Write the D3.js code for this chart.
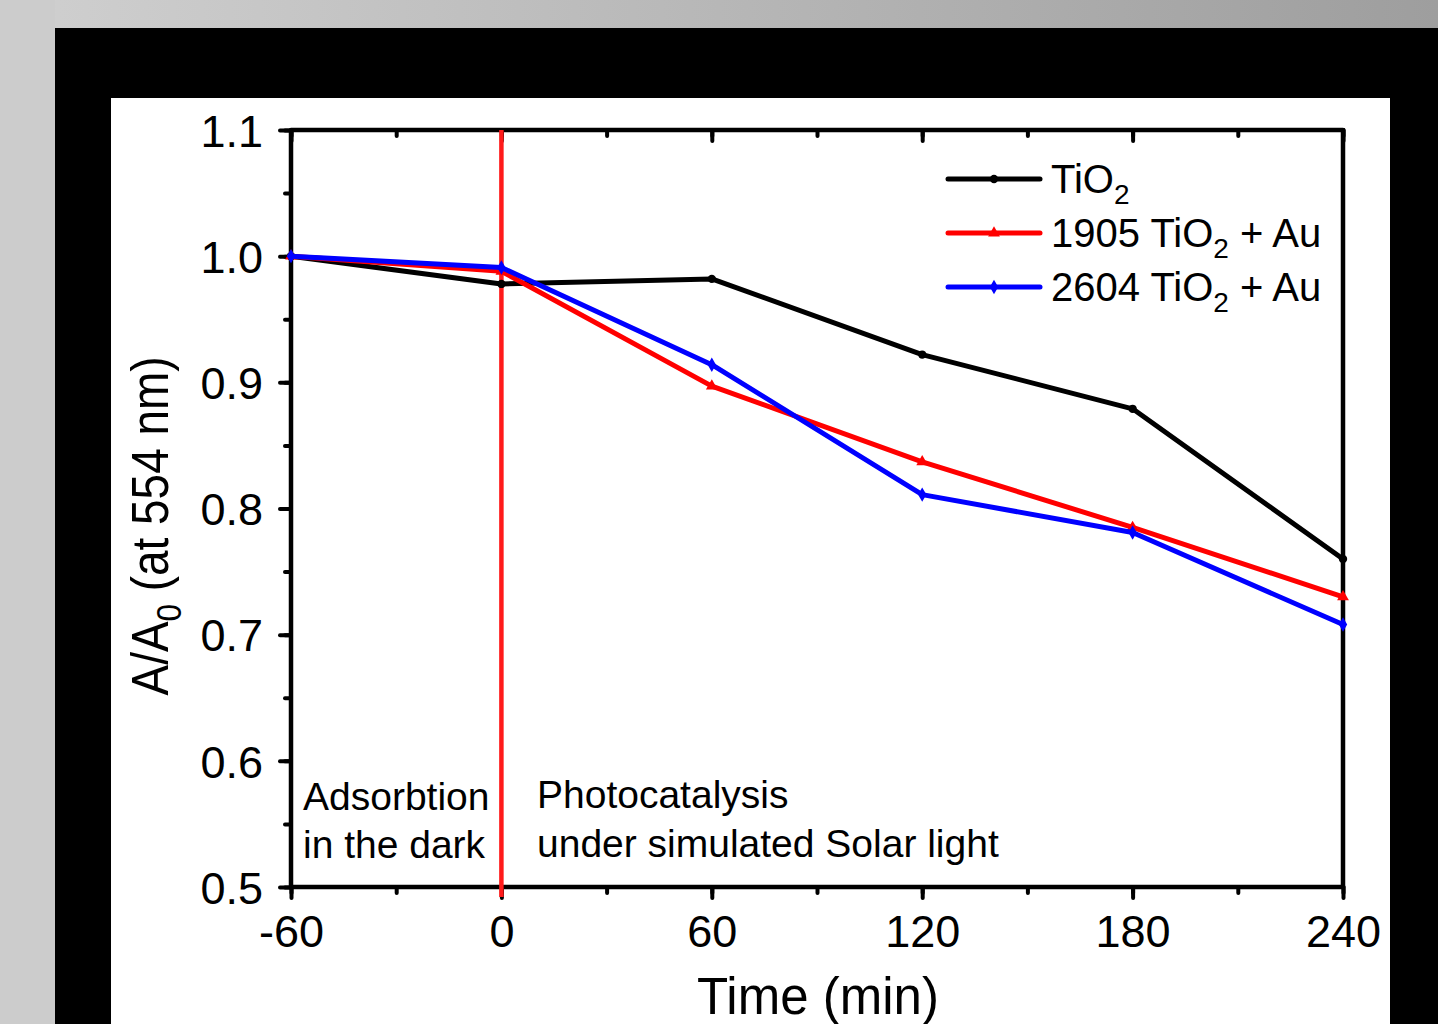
<!DOCTYPE html>
<html>
<head>
<meta charset="utf-8">
<script src="https://cdn.jsdelivr.net/npm/d3@7"></script>
<style>
  body { margin: 0; overflow: hidden; }
  svg { display: block; font-family: "Liberation Sans", Arial, sans-serif; }
</style>
</head>
<body>
<div id="root"></div>
<script>
const times = [-60, 0, 60, 120, 180, 240];
const tio2 = [1.0, 0.978, 0.982, 0.922, 0.879, 0.760];
const tio2Au1905 = [1.0, 0.988, 0.897, 0.837, 0.785, 0.730];
const tio2Au2604 = [1.0, 0.991, 0.914, 0.811, 0.781, 0.708];
const xTicks = [-60, 0, 60, 120, 180, 240];
const yTicks = [0.5, 0.6, 0.7, 0.8, 0.9, 1.0, 1.1];

const series = [
  { name: "TiO", sub: "2", rest: "", values: tio2, color: "#000000", marker: "circle" },
  { name: "1905 TiO", sub: "2", rest: " + Au", values: tio2Au1905, color: "#ff0000", marker: "triangle" },
  { name: "2604 TiO", sub: "2", rest: " + Au", values: tio2Au2604, color: "#0000ff", marker: "diamond" },
];

const width = 1438;
const height = 1024;
const plot = { left: 291, right: 1343, top: 130, bottom: 887 };

const svg = d3.select("#root").append("svg")
  .attr("width", width)
  .attr("height", height);

// background
const grad = svg.append("defs").append("linearGradient")
  .attr("id", "bg")
  .attr("x1", "0").attr("x2", "1").attr("y1", "0").attr("y2", "0");
grad.append("stop").attr("offset", "0").attr("stop-color", "#d0d0d0");
grad.append("stop").attr("offset", "1").attr("stop-color", "#9e9e9e");

svg.append("rect").attr("width", width).attr("height", height).attr("fill", "url(#bg)");
svg.append("rect").attr("width", 55).attr("height", height).attr("fill", "#cccccc");
svg.append("rect").attr("x", 55).attr("y", 28).attr("width", width - 55).attr("height", height - 28).attr("fill", "#000");
svg.append("rect").attr("x", 111).attr("y", 98).attr("width", 1279).attr("height", height - 98).attr("fill", "#fff");

const x = d3.scaleLinear().domain([-60, 240]).range([plot.left, plot.right]);
const y = d3.scaleLinear().domain([0.5, 1.1]).range([plot.bottom, plot.top]);

const minorX = d3.range(-60, 241, 30);
const minorY = d3.range(0.5, 1.1001, 0.05);

// bottom axis
const bottomAxis = svg.append("g")
  .attr("transform", `translate(0,${plot.bottom})`)
  .call(d3.axisBottom(x).tickValues(minorX).tickSize(6).tickFormat(""));
bottomAxis.append("g")
  .call(d3.axisBottom(x).tickValues(xTicks).tickSize(11).tickFormat(d => String(d)));

// left axis
const leftAxis = svg.append("g")
  .attr("transform", `translate(${plot.left},0)`)
  .call(d3.axisLeft(y).tickValues(minorY).tickSize(6).tickFormat(""));
leftAxis.append("g")
  .call(d3.axisLeft(y).tickValues(yTicks).tickSize(11).tickFormat(d => d.toFixed(1)));

// top axis (inward ticks)
const topAxis = svg.append("g")
  .attr("transform", `translate(0,${plot.top})`)
  .call(d3.axisBottom(x).tickValues(minorX).tickSize(6).tickFormat(""));
topAxis.append("g")
  .call(d3.axisBottom(x).tickValues(xTicks).tickSize(11).tickFormat(""));

svg.selectAll(".domain").attr("stroke", "none");
svg.selectAll(".tick line").attr("stroke", "#000").attr("stroke-width", 4).attr("stroke-linecap", "round");
svg.selectAll(".tick text")
  .attr("fill", "#000")
  .attr("font-size", 45)
  .attr("font-family", "Liberation Sans, Arial, sans-serif");
bottomAxis.selectAll(".tick text").attr("dy", null).attr("y", 60);
leftAxis.selectAll(".tick text").attr("x", -28).attr("dy", "0.36em");

// frame
svg.append("rect")
  .attr("x", plot.left).attr("y", plot.top)
  .attr("width", plot.right - plot.left).attr("height", plot.bottom - plot.top)
  .attr("fill", "none").attr("stroke", "#000").attr("stroke-width", 4.5)
  .attr("stroke-linejoin", "round");

// divider at t = 0
svg.append("line")
  .attr("x1", x(0)).attr("x2", x(0))
  .attr("y1", plot.top).attr("y2", plot.bottom + 10)
  .attr("stroke", "#ff1a1a").attr("stroke-width", 4.5);

const line = d3.line().x((d, i) => x(times[i])).y(d => y(d));

const markerPath = {
  circle: d3.symbol(d3.symbolCircle, 55)(),
  triangle: d3.symbol(d3.symbolTriangle, 60)(),
  diamond: d3.symbol(d3.symbolDiamond, 60)(),
};

const lines = svg.append("g");
series.forEach(s => {
  lines.append("path")
    .datum(s.values)
    .attr("fill", "none")
    .attr("stroke", s.color)
    .attr("stroke-width", 5)
    .attr("stroke-linejoin", "round")
    .attr("d", line);
  lines.selectAll(null)
    .data(s.values)
    .join("path")
    .attr("transform", (d, i) => `translate(${x(times[i])},${y(d)})`)
    .attr("d", markerPath[s.marker])
    .attr("fill", s.color);
});

// legend
const legend = svg.append("g").attr("transform", "translate(948,179)");
series.forEach((s, i) => {
  const g = legend.append("g").attr("transform", `translate(0,${i * 54})`);
  g.append("line").attr("x1", 0).attr("x2", 92)
    .attr("stroke", s.color).attr("stroke-width", 5).attr("stroke-linecap", "round");
  g.append("path").attr("transform", "translate(46,0)").attr("d", markerPath[s.marker]).attr("fill", s.color);
  const t = g.append("text").attr("x", 103).attr("y", 14).attr("font-size", 40).attr("fill", "#000");
  t.append("tspan").text(s.name);
  t.append("tspan").attr("font-size", 28).attr("dy", 11).text(s.sub);
  t.append("tspan").attr("dy", -11).text(s.rest);
});

// annotations
const notes = [
  { text: "Adsorbtion", x: 303, y: 810 },
  { text: "in the dark", x: 303, y: 858 },
  { text: "Photocatalysis", x: 537, y: 808 },
  { text: "under simulated Solar light", x: 537, y: 857 },
];
svg.selectAll(".note")
  .data(notes)
  .join("text")
  .attr("class", "note")
  .attr("x", d => d.x)
  .attr("y", d => d.y)
  .attr("font-size", 39)
  .attr("fill", "#000")
  .text(d => d.text);

// axis titles
svg.append("text")
  .attr("x", 818)
  .attr("y", 1014)
  .attr("text-anchor", "middle")
  .attr("font-size", 51)
  .attr("fill", "#000")
  .text("Time (min)");

const yTitle = svg.append("text")
  .attr("transform", "translate(168,526) rotate(-90) scale(0.9,1)")
  .attr("text-anchor", "middle")
  .attr("font-size", 51)
  .attr("fill", "#000");
yTitle.append("tspan").text("A/A");
yTitle.append("tspan").attr("font-size", 35).attr("dy", 13).text("0");
yTitle.append("tspan").attr("dy", -13).text(" (at 554 nm)");
</script>
</body>
</html>
